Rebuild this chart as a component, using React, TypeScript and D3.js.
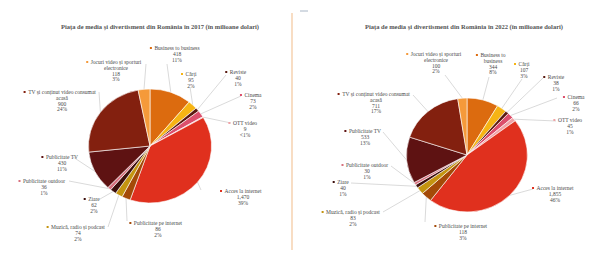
import React from "react";
import * as d3 from "d3";

// ---------- data ----------
const categories = [
  "Business to business",
  "Cărți",
  "Reviste",
  "Cinema",
  "OTT video",
  "Acces la internet",
  "Publicitate pe internet",
  "Muzică, radio și podcast",
  "Ziare",
  "Publicitate outdoor",
  "Publicitate TV",
  "TV și conținut video consumat acasă",
  "Jocuri video și sporturi electronice",
];
const values2017 = [418, 95, 40, 73, 9, 1470, 86, 74, 62, 36, 430, 900, 118];
const values2022 = [344, 107, 38, 66, 45, 1855, 118, 83, 40, 30, 533, 711, 100];
const titles = [
  "Piața de media și divertisment din România în 2017 (în milioane dolari)",
  "Piața de media și divertisment din România în 2022 (în milioane dolari)",
];
const sliceColors = [
  "#dc6b0f", "#f6b414", "#5a1a10", "#dc4f6c", "#f0a2a6", "#e0301e",
  "#a44a08", "#c49410", "#3c0f0c", "#d8707e", "#5e1212", "#83200f", "#f59a3a",
];

// ---------- layout (label placement) ----------
type Lab = { x: number; y: number; lx: number; ly: number; lines?: string[] };
const layout2017: Lab[] = [
  { x: 177, y: 48, lx: 167, ly: 64 },
  { x: 191, y: 74, lx: 190, ly: 87 },
  { x: 238, y: 72, lx: 226, ly: 75 },
  { x: 253, y: 95, lx: 241, ly: 96 },
  { x: 245, y: 123, lx: 231, ly: 123 },
  { x: 243, y: 191, lx: 201, ly: 190 },
  { x: 158, y: 223, lx: 127, ly: 221 },
  { x: 78, y: 227, lx: 108, ly: 227 },
  { x: 94, y: 199, lx: 100, ly: 199 },
  { x: 44, y: 181, lx: 69, ly: 181 },
  { x: 62, y: 157, lx: 73, ly: 157 },
  { x: 62, y: 92, lx: 99, ly: 92, lines: ["TV și conținut video consumat", "acasă"] },
  { x: 116, y: 62, lx: 146, ly: 64, lines: ["Jocuri video și sporturi", "electronice"] },
];
const layout2022: Lab[] = [
  { x: 493, y: 55, lx: 489, ly: 77, lines: ["Business to", "business"] },
  { x: 524, y: 64, lx: 522, ly: 79 },
  { x: 556, y: 77, lx: 543, ly: 78 },
  { x: 576, y: 97, lx: 557, ly: 98 },
  { x: 570, y: 120, lx: 556, ly: 121 },
  { x: 555, y: 188, lx: 533, ly: 189 },
  { x: 463, y: 226, lx: 425, ly: 222 },
  { x: 353, y: 212, lx: 383, ly: 212 },
  { x: 343, y: 182, lx: 351, ly: 183 },
  { x: 367, y: 165, lx: 391, ly: 166 },
  { x: 365, y: 131, lx: 383, ly: 132 },
  { x: 376, y: 94, lx: 413, ly: 95, lines: ["TV și conținut video consumat", "acasă"] },
  { x: 436, y: 54, lx: 445, ly: 75, lines: ["Jocuri video și sporturi", "electronice"] },
];

const charts = [
  { title: titles[0], tx: 160, values: values2017, layout: layout2017, cx: 150, cy: 146, r: 57, sx: 1.08 },
  { title: titles[1], tx: 464, values: values2022, layout: layout2022, cx: 467, cy: 155, r: 57, sx: 1.06 },
];

const FS = 5.5;
const LH = 5.8;
const FONT = '"Liberation Serif", "DejaVu Serif", serif';

let ctx: CanvasRenderingContext2D | null = null;
function textWidth(s: string) {
  if (!ctx) ctx = document.createElement("canvas").getContext("2d");
  if (!ctx) return s.length * FS * 0.45;
  ctx.font = `${FS}px ${FONT}`;
  return ctx.measureText(s).width;
}

const fmt = d3.format(",");

function PieChart({ c }: { c: (typeof charts)[number] }) {
  const pie = d3.pie<number>().sort(null).value((d) => d);
  const arcs = pie(c.values);
  const arc = d3.arc<d3.PieArcDatum<number>>().innerRadius(0).outerRadius(c.r);
  const total = d3.sum(c.values);
  return (
    <g>
      <text x={c.tx} y={29} textAnchor="middle" fontFamily={FONT} fontSize={6.5} fontWeight="bold" fill="#555">
        {c.title}
      </text>
      {arcs.map((a, i) => {
        const L = c.layout[i];
        const mid = (a.startAngle + a.endAngle) / 2;
        const ex = c.cx + c.sx * c.r * Math.sin(mid);
        const ey = c.cy - c.r * Math.cos(mid);
        return (
          <line key={"l" + i} x1={L.lx} y1={L.ly} x2={ex} y2={ey} stroke="#b5b5b5" strokeWidth={0.5} />
        );
      })}
      <g transform={`translate(${c.cx},${c.cy}) scale(${c.sx},1)`}>
        {arcs.map((a, i) => (
          <path key={i} d={arc(a) || ""} fill={sliceColors[i]} stroke="#fff" strokeWidth={0.6} vectorEffect="non-scaling-stroke" />
        ))}
      </g>
      {arcs.map((a, i) => {
        const L = c.layout[i];
        const pct = (a.value / total) * 100;
        const pctStr = pct < 0.5 ? "<1%" : `${Math.round(pct)}%`;
        const lines = [...(L.lines || [categories[i]]), fmt(a.value), pctStr];
        const w0 = textWidth(lines[0]);
        return (
          <g key={"t" + i}>
            <rect x={L.x - w0 / 2 - 4.5} y={L.y - 1} width={2} height={2} fill={sliceColors[i]} />
            {lines.map((s, j) => (
              <text key={j} x={L.x} y={L.y + j * LH + 1.9} textAnchor="middle" fontFamily={FONT} fontSize={FS} fill="#4a4a4a">
                {s}
              </text>
            ))}
          </g>
        );
      })}
    </g>
  );
}

export default function App() {
  return (
    <svg width={603} height={254} style={{ position: "absolute", left: 0, top: 0, background: "#fff" }}>
      <rect width={603} height={254} fill="#fff" />
      <line x1={292} y1={13} x2={292} y2={250} stroke="#f3c79c" strokeWidth={1.2} />
      <line x1={300} y1={11} x2={308} y2={11} stroke="#a9b6c6" strokeWidth={1} />
      {charts.map((c, i) => (
        <PieChart key={i} c={c} />
      ))}
    </svg>
  );
}
